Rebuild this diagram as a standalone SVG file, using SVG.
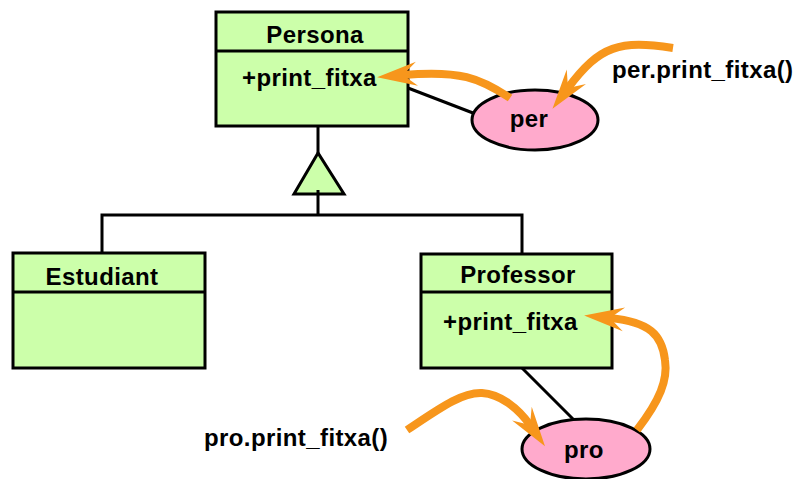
<svg xmlns="http://www.w3.org/2000/svg" width="798" height="479" viewBox="0 0 798 479">
<style>
.box{fill:#ccffaa;stroke:#000;stroke-width:3}
.obj{fill:#ffaacc;stroke:#000;stroke-width:3}
.ln{fill:none;stroke:#000;stroke-width:3}
.t{font-family:"Liberation Sans",Arial,sans-serif;font-weight:bold;font-size:24px;letter-spacing:0.4px;fill:#000}
.c{text-anchor:middle}
.call{fill:none;stroke:#f7961c;stroke-width:8}
</style>
<defs>
<marker id="ah" markerUnits="userSpaceOnUse" orient="auto" refX="0" refY="0" markerWidth="60" markerHeight="40" viewBox="-20 -20 60 40" overflow="visible">
<path d="M26,0 L-14,-12 L0,0 L-14,12 Z" fill="#f7961c"/>
</marker>
</defs>
<g id="connectors">
<line class="ln" x1="318" y1="126" x2="318" y2="153"/>
<polygon id="gen" points="318,153 294,194 344,194" fill="#ccffaa" stroke="#000" stroke-width="3"/>
<polyline class="ln" points="102,253 102,215 522,215 522,254"/>
<line class="ln" x1="318" y1="190" x2="318" y2="215"/>
<line class="ln" x1="408" y1="88" x2="473" y2="113"/>
<line class="ln" x1="522" y1="368" x2="573" y2="419"/>
</g>
<g id="persona">
<rect class="box" x="216" y="12" width="192" height="114"/>
<line class="ln" x1="216" y1="51" x2="408" y2="51"/>
<text class="t c" x="315" y="43">Persona</text>
<text class="t" x="242" y="86">+print_fitxa</text>
</g>
<g id="estudiant">
<rect class="box" x="13" y="253" width="192" height="115"/>
<line class="ln" x1="13" y1="292" x2="205" y2="292"/>
<text class="t c" x="102" y="285">Estudiant</text>
</g>
<g id="professor">
<rect class="box" x="421" y="254" width="191" height="114"/>
<line class="ln" x1="421" y1="292" x2="612" y2="292"/>
<text class="t c" x="518" y="283">Professor</text>
<text class="t" x="443" y="330">+print_fitxa</text>
</g>
<g id="per">
<ellipse class="obj" cx="535" cy="120" rx="63" ry="30"/>
<text class="t c" x="529" y="127">per</text>
</g>
<g id="pro">
<ellipse class="obj" cx="586" cy="449" rx="64" ry="30"/>
<text class="t c" x="584" y="458">pro</text>
</g>
<g id="labels">
<text class="t" x="612" y="78">per.print_fitxa()</text>
<text class="t" x="204" y="446">pro.print_fitxa()</text>
</g>
<g id="calls">
<path class="call" d="M510,98 C480,78 460,70 403,75" marker-end="url(#ah)"/>
<path class="call" d="M673,48 C620,40 600,45 568,88" marker-end="url(#ah)"/>
<path class="call" d="M407,430 C440,408 462,392 482,393 C500,394 518,408 530,425" marker-end="url(#ah)"/>
<path class="call" d="M637,430 C660,400 668,380 665,360 C662,335 650,322 610,318" marker-end="url(#ah)"/>
</g>
</svg>
